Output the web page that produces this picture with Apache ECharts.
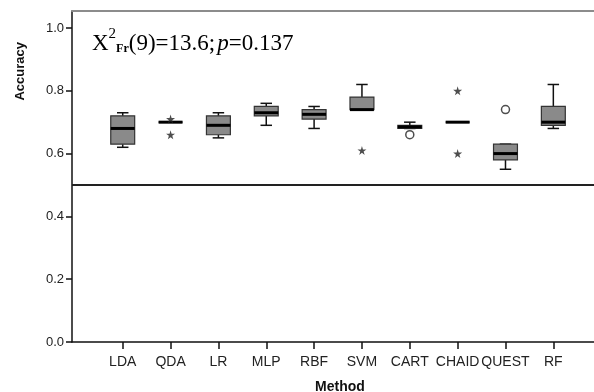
<!DOCTYPE html>
<html>
<head>
<meta charset="utf-8">
<script src="https://cdn.jsdelivr.net/npm/echarts@6/dist/echarts.min.js"></script>
<style>
  html, body { margin: 0; padding: 0; background: #fff; }
  #main { width: 594px; height: 392px; }
</style>
</head>
<body>
<div id="main"></div>
<script>
var categories = ['LDA', 'QDA', 'LR', 'MLP', 'RBF', 'SVM', 'CART', 'CHAID', 'QUEST', 'RF'];
var boxLow    = [0.62, 0.70, 0.65, 0.69, 0.68, 0.74, 0.68,  0.70, 0.55, 0.68];
var boxQ1     = [0.63, 0.70, 0.66, 0.72, 0.71, 0.74, 0.68,  0.70, 0.58, 0.69];
var boxMedian = [0.68, 0.70, 0.69, 0.73, 0.725, 0.74, 0.685, 0.70, 0.60, 0.70];
var boxQ3     = [0.72, 0.70, 0.72, 0.75, 0.74, 0.78, 0.69,  0.70, 0.63, 0.75];
var boxHigh   = [0.73, 0.70, 0.73, 0.76, 0.75, 0.82, 0.70,  0.70, 0.63, 0.82];
// extreme values (stars) and outliers (circles)
var extremes = [['QDA', 0.71], ['QDA', 0.66], ['SVM', 0.61], ['CHAID', 0.80], ['CHAID', 0.60]];
var outliers = [['CART', 0.66], ['QUEST', 0.74]];
var yTicks = [0, 0.2, 0.4, 0.6, 0.8, 1.0];
var chanceLevel = 0.5;

var chartDom = document.getElementById('main');
var myChart = echarts.init(chartDom);

var boxData = categories.map(function (c, i) {
  return [i, boxLow[i], boxQ1[i], boxMedian[i], boxQ3[i], boxHigh[i]];
});
var catIndex = categories.map(function (c, i) { return i; });
var toPoint = function (d) { return [categories.indexOf(d[0]), d[1]]; };

var starPath = 'path://M50,0 L61,35 L98,35 L68,57 L79,91 L50,70 L21,91 L32,57 L2,35 L39,35 Z';

function renderBox(params, api) {
  var i = api.value(0);
  var band = api.size([1, 0])[0];
  var half = band * 0.25;
  var cap = band * 0.12;
  var pLow = api.coord([i, api.value(1)]);
  var pQ1 = api.coord([i, api.value(2)]);
  var pMed = api.coord([i, api.value(3)]);
  var pQ3 = api.coord([i, api.value(4)]);
  var pHigh = api.coord([i, api.value(5)]);
  var x = pLow[0];
  var line = { stroke: '#111', lineWidth: 1.5 };
  return {
    type: 'group',
    children: [
      { type: 'line', shape: { x1: x, y1: pLow[1], x2: x, y2: pQ1[1] }, style: line },
      { type: 'line', shape: { x1: x, y1: pHigh[1], x2: x, y2: pQ3[1] }, style: line },
      { type: 'line', shape: { x1: x - cap, y1: pLow[1], x2: x + cap, y2: pLow[1] }, style: line },
      { type: 'line', shape: { x1: x - cap, y1: pHigh[1], x2: x + cap, y2: pHigh[1] }, style: line },
      { type: 'rect', shape: { x: x - half, y: pQ3[1], width: half * 2, height: pQ1[1] - pQ3[1] },
        style: { fill: '#8a8a8a', stroke: '#333', lineWidth: 1.2 } },
      { type: 'line', shape: { x1: x - half, y1: pMed[1], x2: x + half, y2: pMed[1] },
        style: { stroke: '#000', lineWidth: 3 } }
    ]
  };
}

var option = {
  animation: false,
  grid: { left: 72, right: -2, top: 11, bottom: 50 },
  xAxis: [{
    type: 'value',
    min: -1.06,
    max: 9.85,
    axisLine: { show: true, onZero: false, lineStyle: { color: '#111', width: 1.5 } },
    axisTick: { show: true, length: 7, customValues: catIndex,
      lineStyle: { color: '#111', width: 1.5 } },
    axisLabel: {
      customValues: catIndex,
      formatter: function (v) { return categories[Math.round(v)]; },
      color: '#222', fontFamily: 'Arial, Liberation Sans', fontSize: 14, margin: 13
    },
    splitLine: { show: false }
  }, {
    type: 'value',
    position: 'top',
    min: -1.06,
    max: 9.85,
    axisLine: { show: true, onZero: false, lineStyle: { color: '#8c8c8c', width: 2 } },
    axisTick: { show: false },
    axisLabel: { show: false },
    splitLine: { show: false }
  }],
  yAxis: {
    type: 'value',
    min: 0,
    max: 1.054,
    axisLine: { show: true, onZero: false, lineStyle: { color: '#111', width: 1.5 } },
    axisTick: { show: true, length: 6, customValues: yTicks, lineStyle: { color: '#111', width: 1.5 } },
    axisLabel: {
      customValues: yTicks,
      formatter: function (v) { return v.toFixed(1); },
      color: '#222', fontFamily: 'Arial, Liberation Sans', fontSize: 13, margin: 8
    },
    splitLine: { show: false }
  },
  graphic: [{
    type: 'text',
    left: 14,
    top: 42,
    rotation: Math.PI / 2,
    style: { text: 'Accuracy', font: 'bold 13px Arial, Liberation Sans', fill: '#111' }
  }, {
    type: 'text',
    x: 340,
    y: 387,
    style: { text: 'Method', font: 'bold 14px Arial, Liberation Sans', fill: '#111',
      textAlign: 'center', textVerticalAlign: 'middle' }
  }, {
    type: 'text',
    x: 92,
    y: 27,
    style: {
      text: '{b|X}{sup|2}{sub|Fr}{b|(9)=13.6;}{i|p}{b|=0.137}',
      rich: {
        b: { fontFamily: 'Liberation Serif', fontSize: 23, color: '#111', lineHeight: 28, verticalAlign: 'bottom' },
        i: { fontFamily: 'Liberation Serif', fontStyle: 'italic', fontSize: 23, color: '#111', lineHeight: 28, verticalAlign: 'bottom', padding: [0, 0, 0, 2] },
        sup: { fontFamily: 'Liberation Serif', fontSize: 15, color: '#111', verticalAlign: 'top', lineHeight: 16 },
        sub: { fontFamily: 'Liberation Serif', fontWeight: 'bold', fontSize: 12, color: '#111', verticalAlign: 'bottom', lineHeight: 12 }
      }
    }
  }],
  series: [{
    type: 'custom',
    renderItem: renderBox,
    encode: { x: 0, y: [1, 2, 3, 4, 5] },
    data: boxData,
    z: 3
  }, {
    type: 'scatter',
    symbol: starPath,
    symbolSize: 9,
    itemStyle: { color: '#222' },
    data: extremes.map(toPoint),
    z: 4,
    markLine: {
      silent: true,
      symbol: 'none',
      label: { show: false },
      lineStyle: { color: '#222', width: 2, type: 'solid' },
      data: [{ yAxis: chanceLevel }]
    }
  }, {
    type: 'scatter',
    symbol: 'circle',
    symbolSize: 8,
    itemStyle: { color: '#fff', borderColor: '#222', borderWidth: 1.5 },
    data: outliers.map(toPoint),
    z: 4
  }]
};

option && myChart.setOption(option);
</script>
</body>
</html>
